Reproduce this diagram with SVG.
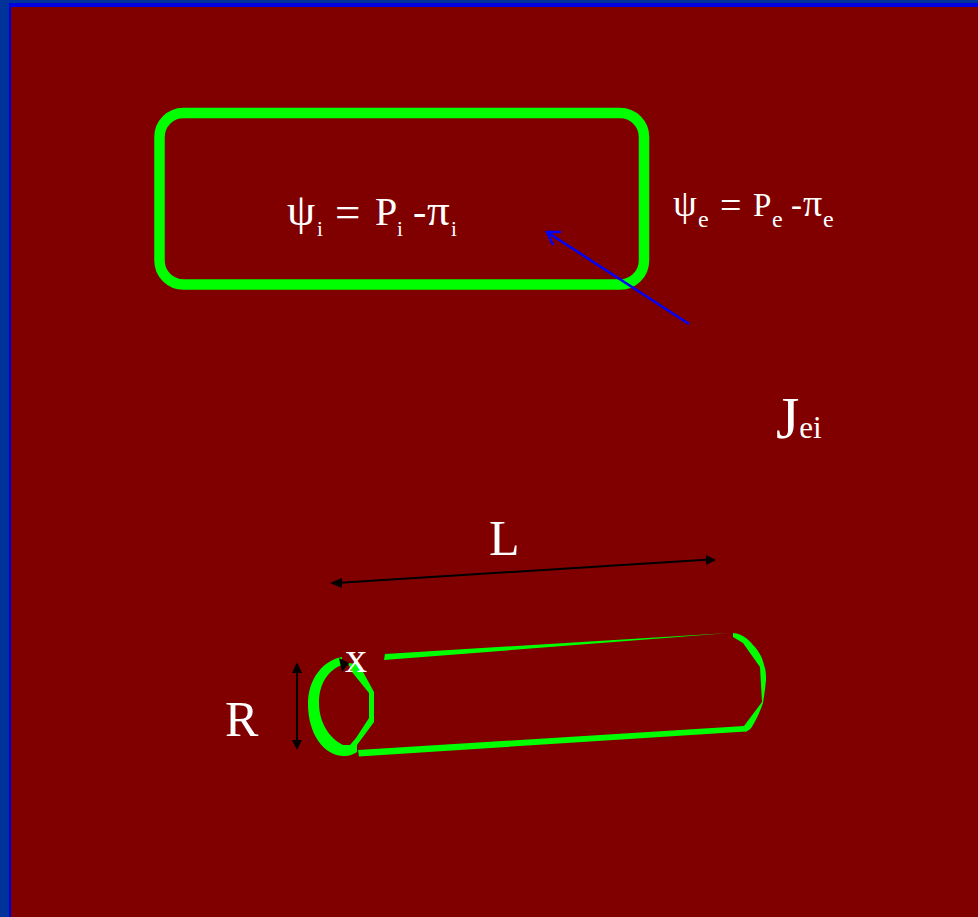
<svg xmlns="http://www.w3.org/2000/svg" width="978" height="917" viewBox="0 0 978 917">
<style>
text{font-family:"Liberation Serif","Times New Roman",serif;fill:#fff}
.g{fill:#00ff00;stroke:none}
.k{fill:none;stroke:#000;stroke-width:2}
.kh{fill:#000;stroke:none}
.a{font-size:40px}
.ag{font-size:45px}
.as{font-size:21px}
.b{font-size:33px}
.bg{font-size:38px}
.bs{font-size:24px}
</style>
<rect width="978" height="917" fill="#003399"/>
<rect x="9" y="3" width="969" height="914" fill="#0000e0"/>
<rect x="11" y="7" width="967" height="910" fill="#800000"/>
<g id="cell-box"><rect x="159.500" y="113" width="484.500" height="171.500" rx="24" fill="none" stroke="#00ff00" stroke-width="10.500"/></g>
<g id="psi-i"><text class="ag" x="287" y="225">ψ</text><text class="as" x="317" y="236">i</text><text class="ag" x="335" y="227">=</text><text class="a" x="375" y="225">P</text><text class="as" x="397" y="236">i</text><text class="a" x="413" y="225">-</text><text class="ag" x="427" y="225">π</text><text class="as" x="451" y="236">i</text></g>
<g id="psi-e"><text class="bg" x="673" y="216">ψ</text><text class="bs" x="698" y="227">e</text><text class="bg" x="720" y="218">=</text><text class="b" x="753" y="216">P</text><text class="bs" x="772" y="227">e</text><text class="b" x="791" y="216">-</text><text class="bg" x="803" y="216">π</text><text class="bs" x="823" y="227">e</text></g>
<g id="jei"><text x="776" y="438" font-size="60">J<tspan font-size="31">ei</tspan></text></g>
<g id="label-L"><text x="489" y="555" font-size="50">L</text></g>
<g id="label-R"><text x="225" y="736" font-size="50">R</text></g>
<g id="tube">
<path class="g" d="M342 657C324 660 308 678 308 704C308 734 324 756 344 756C350 756 354 754 357 752V745L374 722V692L362 670L357 664L348 663L352 672L369 693V718L356 738L350 745L343 745C329 738 319 722 319 703C319 684 328 670 342 665Z"/>
<path class="g" d="M385 654L729 633L384 660Z"/>
<path class="g" d="M358 750L744 726L746 731.500L359 756.500Z"/>
<path class="g" d="M733 633C743 634 749 640 753 645C759 651 763 659 764 665C766 670 766 675 766 680C765 690 764 697 763 703C760 712 756 720 753 725C751 729 748 731 745 732L744 726L762 702L760 667L743 643L733 637Z"/>
</g>
<g id="connectors">
<line x1="689" y1="324" x2="547" y2="232" stroke="#0000ff" stroke-width="2.500"/>
<path d="M561 232H547L553 245" fill="none" stroke="#0000ff" stroke-width="2.500"/>
<line class="k" x1="336" y1="583" x2="710" y2="559.500"/>
<path class="kh" d="M330 583L342 578L342 588Z"/>
<path class="kh" d="M716 560L706 555L706 565Z"/>
<line class="k" x1="297" y1="668" x2="297" y2="745"/>
<path class="kh" d="M297 662L292 673H302Z"/>
<path class="kh" d="M297 750L292 740H302Z"/>
<path class="kh" d="M339 658L349 663L342 672Z"/>
</g>
<g id="label-x"><text x="345" y="672" font-size="44">x</text></g>
</svg>
